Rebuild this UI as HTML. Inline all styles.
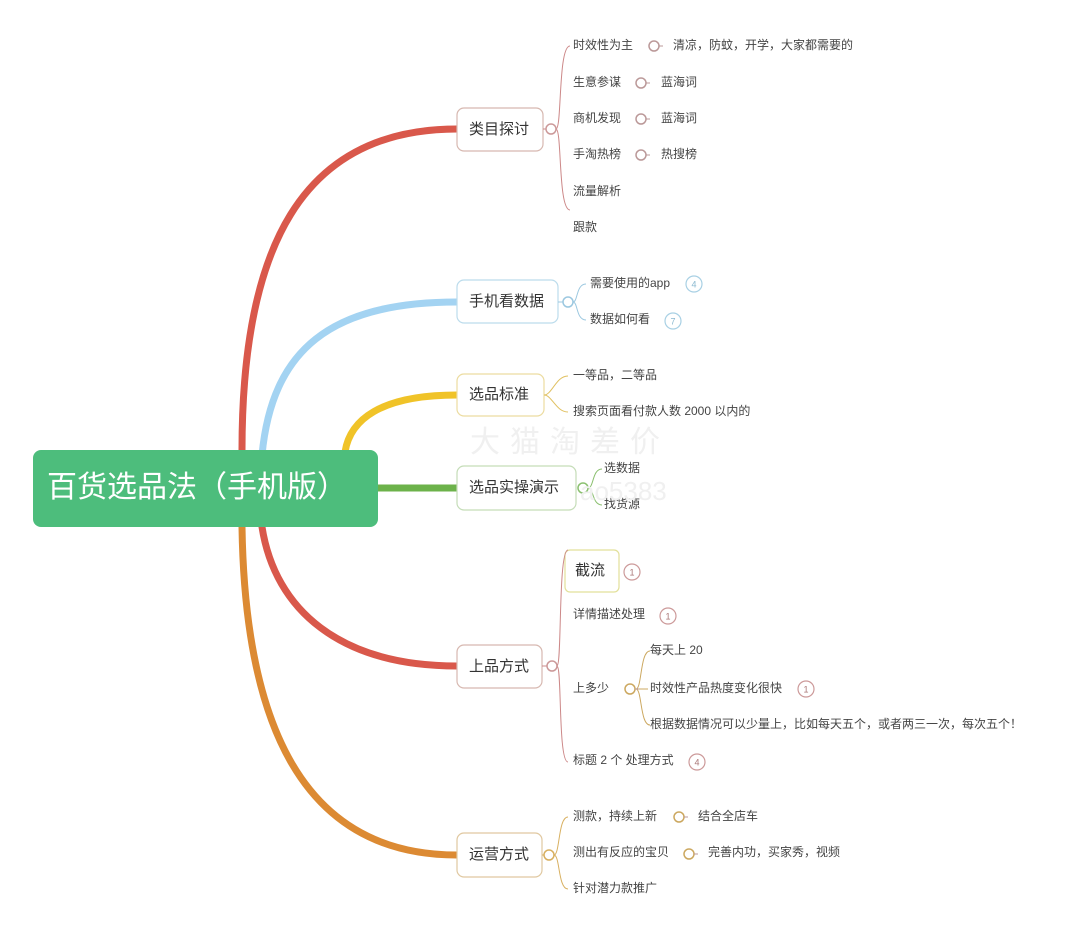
<!DOCTYPE html>
<html><head><meta charset="utf-8"><style>
html,body{margin:0;padding:0;background:#fff;}
svg{display:block;font-family:"Liberation Sans","Noto Sans CJK SC",sans-serif;}
.t{font-size:12px;fill:#444;dominant-baseline:middle;}
.n{font-size:15px;fill:#333;dominant-baseline:middle;}
.b{font-size:9px;dominant-baseline:middle;text-anchor:middle;}
</style></head><body>
<svg width="1076" height="930" viewBox="0 0 1076 930">
<g fill="none" stroke-width="7" stroke-linecap="round">
<path d="M242 450 C242 250 300 129 457 129" stroke="#d9584b"/>
<path d="M262 455 C272 350 330 302 457 302" stroke="#a3d3f2"/>
<path d="M345 452 C350 420 380 395 457 395" stroke="#f0c328"/>
<path d="M378 488 L457 488" stroke="#6cb24a"/>
<path d="M262 527 C275 610 340 666 457 666" stroke="#d9584b"/>
<path d="M242 527 C245 720 300 855 457 855" stroke="#dc8a33"/>
</g>
<rect x="33" y="450" width="345" height="77" rx="8" fill="#4dbd7c"/>
<text x="47" y="489" font-size="30" fill="#fff" dominant-baseline="middle">百货选品法（手机版）</text>

<g fill="#fff" stroke-width="1.2">
<rect x="457" y="108" width="86" height="43" rx="7" stroke="#d7b8b0"/>
<rect x="457" y="280" width="101" height="43" rx="7" stroke="#bcdcec"/>
<rect x="457" y="374" width="87" height="42" rx="7" stroke="#ecdca0"/>
<rect x="457" y="466" width="119" height="44" rx="7" stroke="#c5ddb8"/>
<rect x="457" y="645" width="85" height="43" rx="7" stroke="#d7b8b0"/>
<rect x="457" y="833" width="85" height="44" rx="7" stroke="#e0c8a0"/>
<rect x="565" y="550" width="54" height="42" rx="5" stroke="#e2e09a"/>
</g>
<text class="n" x="469" y="130">类目探讨</text>
<text class="n" x="469" y="302">手机看数据</text>
<text class="n" x="469" y="395">选品标准</text>
<text class="n" x="469" y="488">选品实操演示</text>
<text class="n" x="469" y="667">上品方式</text>
<text class="n" x="469" y="855">运营方式</text>
<text class="n" x="575" y="571">截流</text>

<g fill="none" stroke-width="1">
<path d="M543 129 H548 M556 129 C562 129 558 46 570 46 M556 129 C562 129 558 210 570 210" stroke="#c88"/>
<path d="M558 302 H563 M573 302 C578 302 576 284 586 284 M573 302 C578 302 576 320 586 320" stroke="#9cc8e0"/>
<path d="M544 395 C552 395 556 376 568 376 M544 395 C552 395 556 412 568 412" stroke="#e0c060"/>
<path d="M588 488 C594 488 592 469 602 469 M588 488 C594 488 592 505 602 505" stroke="#8bc070"/>
<path d="M542 666 H547 M557 666 C562 666 558 550 568 550 M557 666 C562 666 558 762 568 762" stroke="#c88"/>
<path d="M636 689 C642 689 640 651 650 651 M636 689 C642 689 640 725 650 725 M636 689 H648" stroke="#cca860"/>
<path d="M542 855 H544 M554 855 C560 855 558 817 568 817 M554 855 C560 855 558 889 568 889" stroke="#d8b060"/>
</g>
<g fill="#fff" stroke-width="1.5">
<circle cx="551" cy="129" r="5" stroke="#c99"/>
<circle cx="568" cy="302" r="5" stroke="#9cc8e0"/>
<circle cx="583" cy="488" r="5" stroke="#8bc070"/>
<circle cx="552" cy="666" r="5" stroke="#c99"/>
<circle cx="549" cy="855" r="5" stroke="#d8b060"/>
<circle cx="654" cy="46" r="5" stroke="#b99"/>
<circle cx="641" cy="83" r="5" stroke="#b99"/>
<circle cx="641" cy="119" r="5" stroke="#b99"/>
<circle cx="641" cy="155" r="5" stroke="#b99"/>
<circle cx="630" cy="689" r="5" stroke="#cca860"/>
<circle cx="679" cy="817" r="5" stroke="#cca860"/>
<circle cx="689" cy="854" r="5" stroke="#cca860"/>
</g>
<g stroke-width="1" stroke="#b99">
<path d="M659 46h4M646 83h4M646 119h4M646 155h4M635 689h4M684 817h4M694 854h4"/>
</g>

<text class="t" x="573" y="46">时效性为主</text><text class="t" x="673" y="46">清凉，防蚊，开学，大家都需要的</text>
<text class="t" x="573" y="83">生意参谋</text><text class="t" x="661" y="83">蓝海词</text>
<text class="t" x="573" y="119">商机发现</text><text class="t" x="661" y="119">蓝海词</text>
<text class="t" x="573" y="155">手淘热榜</text><text class="t" x="661" y="155">热搜榜</text>
<text class="t" x="573" y="192">流量解析</text>
<text class="t" x="573" y="228">跟款</text>
<text class="t" x="590" y="284">需要使用的app</text>
<text class="t" x="590" y="320">数据如何看</text>
<text class="t" x="573" y="376">一等品，二等品</text>
<text class="t" x="573" y="412">搜索页面看付款人数 2000 以内的</text>
<text class="t" x="604" y="469">选数据</text>
<text class="t" x="604" y="505">找货源</text>
<text class="t" x="573" y="615">详情描述处理</text>
<text class="t" x="573" y="689">上多少</text>
<text class="t" x="650" y="651">每天上 20</text>
<text class="t" x="650" y="689">时效性产品热度变化很快</text>
<text class="t" x="650" y="725">根据数据情况可以少量上，比如每天五个，或者两三一次，每次五个！</text>
<text class="t" x="573" y="761">标题 2 个 处理方式</text>
<text class="t" x="573" y="817">测款，持续上新</text><text class="t" x="698" y="817">结合全店车</text>
<text class="t" x="573" y="853">测出有反应的宝贝</text><text class="t" x="708" y="853">完善内功，买家秀，视频</text>
<text class="t" x="573" y="889">针对潜力款推广</text>

<g fill="#fff" stroke-width="1.2">
<circle cx="694" cy="284" r="8" stroke="#a8d0e4"/>
<circle cx="673" cy="321" r="8" stroke="#a8d0e4"/>
<circle cx="632" cy="572" r="8" stroke="#c99"/>
<circle cx="668" cy="616" r="8" stroke="#c99"/>
<circle cx="806" cy="689" r="8" stroke="#c99"/>
<circle cx="697" cy="762" r="8" stroke="#c99"/>
</g>
<text class="b" x="694" y="285" fill="#8ab8d0">4</text>
<text class="b" x="673" y="322" fill="#8ab8d0">7</text>
<text class="b" x="632" y="573" fill="#a77">1</text>
<text class="b" x="668" y="617" fill="#a77">1</text>
<text class="b" x="806" y="690" fill="#a77">1</text>
<text class="b" x="697" y="763" fill="#a77">4</text>

<text x="470" y="452" font-size="30" fill="#f0f0f0" letter-spacing="10">大猫淘差价</text>
<text x="580" y="500" font-size="26" fill="#f0f0f0">ao5383</text>
</svg>
</body></html>
